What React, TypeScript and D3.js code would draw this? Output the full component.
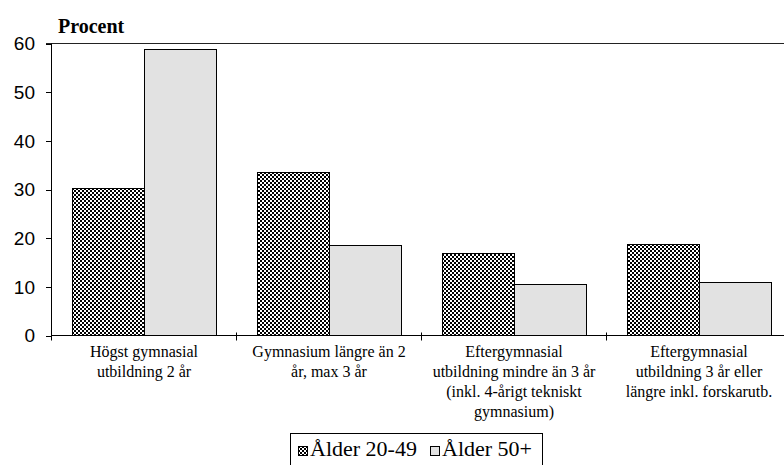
import * as d3 from "d3";

const categories = [
  ["Högst gymnasial", "utbildning 2 år"],
  ["Gymnasium längre än 2", "år, max 3 år"],
  ["Eftergymnasial", "utbildning mindre än 3 år", "(inkl. 4-årigt tekniskt", "gymnasium)"],
  ["Eftergymnasial", "utbildning 3 år eller", "längre inkl. forskarutb."],
];
const series = ["Ålder 20-49", "Ålder 50+"];
const age2049 = [30.3, 33.6, 17.0, 18.8];
const age50 = [58.8, 18.5, 10.5, 10.9];
const yTicks = [0, 10, 20, 30, 40, 50, 60];

const W = 784;
const H = 465;
const left = 51.5;
const top = 43.5;
const bottom = 335.5;
const serif = "Liberation Serif";
const sans = "Liberation Sans";

export default function App() {
  const keys = categories.map((_, i) => String(i));
  const x0 = d3.scaleBand<string>().domain(keys).range([left, left + 185 * 4]);
  const x1 = d3.scaleBand<string>().domain(series).range([20.5, 164.5]);
  const y = d3.scaleLinear().domain([0, 60]).range([bottom, top]);
  const values = [age2049, age50];

  return (
    <svg width={W} height={H} style={{ position: "absolute", left: 0, top: 0 }}>
      <defs>
        <pattern id="checker" width={4} height={4} patternUnits="userSpaceOnUse">
          <rect width={4} height={4} fill="#fff" />
          <rect width={2} height={2} fill="#000" />
          <rect x={2} y={2} width={2} height={2} fill="#000" />
        </pattern>
      </defs>
      <text x={58} y={33} fontFamily={serif} fontWeight="bold" fontSize={20}>
        Procent
      </text>
      {/* bars */}
      {keys.map((k, i) =>
        series.map((s, j) => {
          const v = values[j][i];
          return (
            <rect
              key={k + s}
              x={Math.round(x0(k)! + x1(s)!) + 0.5}
              y={Math.round(y(v)) + 0.5}
              width={x1.bandwidth()}
              height={bottom - Math.round(y(v)) - 0.5}
              fill={j === 0 ? "url(#checker)" : "#e2e2e2"}
              stroke="#000"
              strokeWidth={1}
            />
          );
        })
      )}
      {/* top border */}
      <line x1={46} x2={W} y1={top} y2={top} stroke="#222" strokeWidth={1} />
      {/* y axis */}
      <line x1={left} x2={left} y1={top} y2={bottom} stroke="#000" />
      {yTicks.map((t) => (
        <g key={t}>
          <line x1={46} x2={left} y1={Math.round(y(t)) + 0.5} y2={Math.round(y(t)) + 0.5} stroke="#000" />
          <text x={35} y={y(t)} dy="0.36em" textAnchor="end" fontFamily={sans} fontSize={19}>
            {t}
          </text>
        </g>
      ))}
      {/* x axis */}
      <line x1={left} x2={W} y1={bottom} y2={bottom} stroke="#000" />
      {keys.map((k) => (
        <line key={k} x1={x0(k)!} x2={x0(k)!} y1={bottom - 3} y2={bottom + 5} stroke="#000" />
      ))}
      {keys.map((k, i) => (
        <text
          key={"l" + k}
          x={x0(k)! + x0.bandwidth() / 2}
          y={357}
          textAnchor="middle"
          fontFamily={serif}
          fontSize={16}
        >
          {categories[i].map((line, li) => (
            <tspan key={li} x={x0(k)! + x0.bandwidth() / 2} dy={li === 0 ? 0 : 20}>
              {line}
            </tspan>
          ))}
        </text>
      ))}
      {/* legend */}
      <rect x={290.5} y={433.5} width={252} height={40} fill="#fff" stroke="#000" />
      <rect x={298.5} y={446.5} width={9} height={9} fill="url(#checker)" stroke="#000" />
      <text x={310} y={456} fontFamily={serif} fontSize={22}>
        {series[0]}
      </text>
      <rect x={430.5} y={446.5} width={9} height={9} fill="#e2e2e2" stroke="#000" />
      <text x={442} y={456} fontFamily={serif} fontSize={22}>
        {series[1]}
      </text>
    </svg>
  );
}
